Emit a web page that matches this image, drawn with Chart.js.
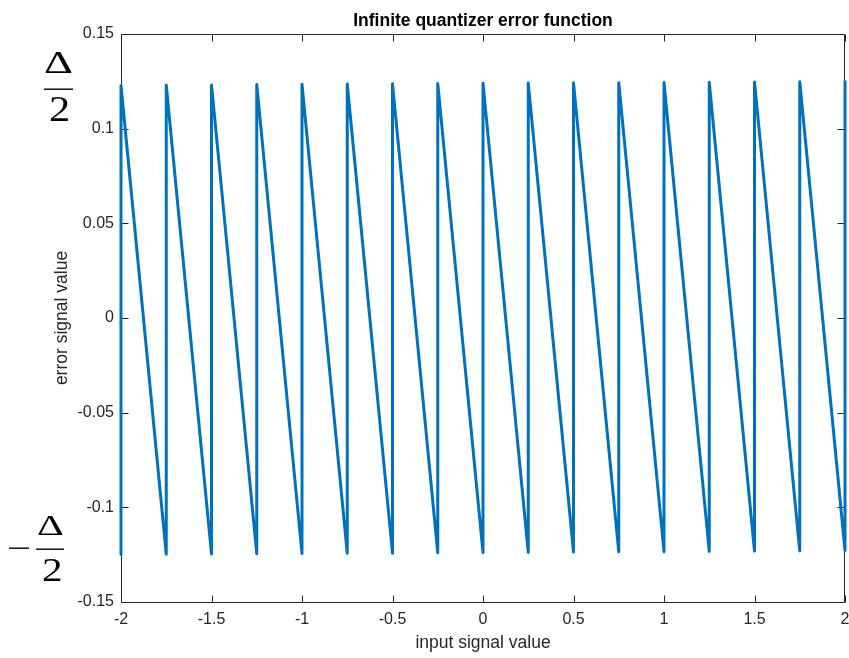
<!DOCTYPE html>
<html>
<head>
<meta charset="utf-8">
<title>Infinite quantizer error function</title>
<script src="https://cdn.jsdelivr.net/npm/chart.js@4/dist/chart.umd.min.js"></script>
<style>
  html, body { margin: 0; padding: 0; background: #fff; }
  #wrap { width: 849px; height: 658px; position: relative; }
</style>
</head>
<body>
<div id="wrap"><canvas id="errChart"></canvas></div>
<script>
// sawtooth corners: every step of the quantizer jumps from a trough to a peak
const jumpX = [-2, -1.75, -1.5, -1.25, -1, -0.75, -0.5, -0.25, 0, 0.25, 0.5, 0.75, 1, 1.25, 1.5, 1.75, 2];
const peakY = [0.1228, 0.1230, 0.1231, 0.1233, 0.1234, 0.1236, 0.1237, 0.1238, 0.1240,
               0.1241, 0.1242, 0.1243, 0.1244, 0.1245, 0.1247, 0.1248, 0.1249];
const troughY = [-0.1249, -0.1248, -0.1247, -0.1245, -0.1244, -0.1243, -0.1242, -0.1240, -0.1239,
                 -0.1238, -0.1236, -0.1235, -0.1234, -0.1233, -0.1231, -0.1230, -0.1228];

const xTicks = [-2, -1.5, -1, -0.5, 0, 0.5, 1, 1.5, 2];
const xTickLabels = ['-2', '-1.5', '-1', '-0.5', '0', '0.5', '1', '1.5', '2'];
const yTicks = [-0.15, -0.1, -0.05, 0, 0.05, 0.1, 0.15];
const yTickLabels = ['-0.15', '-0.1', '-0.05', '0', '0.05', '0.1', '0.15'];

const titleText = 'Infinite quantizer error function';

const sansFont = "'Liberation Sans', Arial, Helvetica, sans-serif";
const mathFont = "'Liberation Serif', 'DejaVu Serif', serif";
const axisColor = '#262626';

// vertical jump at each step, then the linear ramp down to the next step
const points = [];
jumpX.forEach((x, i) => {
  points.push({x: x, y: troughY[i]});
  points.push({x: x, y: peakY[i]});
});

// matlab style box with inward ticks on all four sides
const boxPlugin = {
  id: 'boxFrame',
  beforeDatasetsDraw(chart) {
    const {ctx, chartArea: a, scales} = chart;
    const L = Math.floor(a.left) + 0.5, R = Math.floor(a.right) - 0.5;
    const T = Math.floor(a.top) + 0.5, B = Math.floor(a.bottom) + 0.5;
    const tl = 7;
    ctx.save();
    ctx.strokeStyle = axisColor;
    ctx.lineWidth = 1;
    ctx.beginPath();
    ctx.rect(L, T, R - L, B - T);
    xTicks.forEach(v => {
      const px = Math.round(scales.x.getPixelForValue(v)) + 0.5;
      ctx.moveTo(px, B); ctx.lineTo(px, B - tl);
      ctx.moveTo(px, T); ctx.lineTo(px, T + tl);
    });
    yTicks.forEach(v => {
      const py = Math.round(scales.y.getPixelForValue(v)) + 0.5;
      ctx.moveTo(L, py); ctx.lineTo(L + tl, py);
      ctx.moveTo(R, py); ctx.lineTo(R - tl, py);
    });
    ctx.stroke();
    ctx.restore();
  }
};

// draw a glyph stretched into an ink box (left, top, width, height)
function glyphBox(ctx, ch, left, top, w, h) {
  ctx.save();
  ctx.font = '40px ' + mathFont;
  ctx.textAlign = 'left';
  ctx.textBaseline = 'alphabetic';
  const m = ctx.measureText(ch);
  const iw = m.actualBoundingBoxLeft + m.actualBoundingBoxRight;
  const ih = m.actualBoundingBoxAscent + m.actualBoundingBoxDescent;
  ctx.translate(left, top);
  ctx.scale(w / iw, h / ih);
  ctx.fillText(ch, m.actualBoundingBoxLeft, m.actualBoundingBoxAscent);
  ctx.restore();
}

// the +/- delta over 2 markers left of the y axis, and the title over the plot box
const labelPlugin = {
  id: 'extraLabels',
  afterDraw(chart) {
    const {ctx, chartArea: a} = chart;
    ctx.save();
    ctx.fillStyle = '#000';
    // upper: delta / 2
    glyphBox(ctx, '\u0394', 45, 53, 27, 20);
    ctx.fillRect(44, 88.5, 29, 1.4);
    glyphBox(ctx, '2', 50, 98, 18, 23);
    // lower: minus delta / 2
    ctx.fillRect(9, 547.5, 20, 1.4);
    glyphBox(ctx, '\u0394', 38, 515, 25, 19.5);
    ctx.fillRect(36, 548.5, 28, 1.4);
    glyphBox(ctx, '2', 43, 558.5, 17.5, 22);

    ctx.textAlign = 'center';
    ctx.textBaseline = 'alphabetic';
    ctx.font = 'bold 17.5px ' + sansFont;
    ctx.fillText(titleText, (a.left + a.right) / 2, 26);
    ctx.restore();
  }
};

new Chart(document.getElementById('errChart'), {
  type: 'line',
  data: {
    datasets: [{
      data: points,
      borderColor: '#0072BD',
      borderWidth: 3,
      borderJoinStyle: 'round',
      borderCapStyle: 'round',
      pointRadius: 0,
      tension: 0,
      fill: false,
      clip: false
    }]
  },
  options: {
    responsive: true,
    maintainAspectRatio: false,
    animation: false,
    layout: { padding: { left: 0, right: 0, top: 34, bottom: 0 } },
    plugins: {
      legend: { display: false },
      tooltip: { enabled: false },
      title: { display: false }
    },
    scales: {
      x: {
        type: 'linear',
        min: -2,
        max: 2,
        grid: { display: false, drawTicks: false },
        border: { display: false },
        afterBuildTicks: s => { s.ticks = xTicks.map(v => ({value: v})); },
        afterFit: s => { s.height = 56; s.paddingLeft = 0; s.paddingRight = 4; },
        ticks: {
          padding: 8,
          color: axisColor,
          font: { family: sansFont, size: 16 },
          maxRotation: 0,
          callback: (v, i) => xTickLabels[i]
        },
        title: {
          display: true,
          text: 'input signal value',
          color: axisColor,
          font: { family: sansFont, size: 17.5 },
          padding: { top: 0, bottom: 4.5 }
        }
      },
      y: {
        min: -0.15,
        max: 0.15,
        grid: { display: false, drawTicks: false },
        border: { display: false },
        afterBuildTicks: s => { s.ticks = yTicks.map(v => ({value: v})); },
        afterFit: s => { s.width = 121; },
        ticks: {
          padding: 7,
          color: axisColor,
          font: { family: sansFont, size: 16 },
          callback: (v, i) => yTickLabels[i]
        },
        title: {
          display: true,
          text: 'error signal value',
          color: axisColor,
          font: { family: sansFont, size: 17.5 },
          padding: { top: 51.5, bottom: 0 }
        }
      }
    }
  },
  plugins: [boxPlugin, labelPlugin]
});
</script>
</body>
</html>
